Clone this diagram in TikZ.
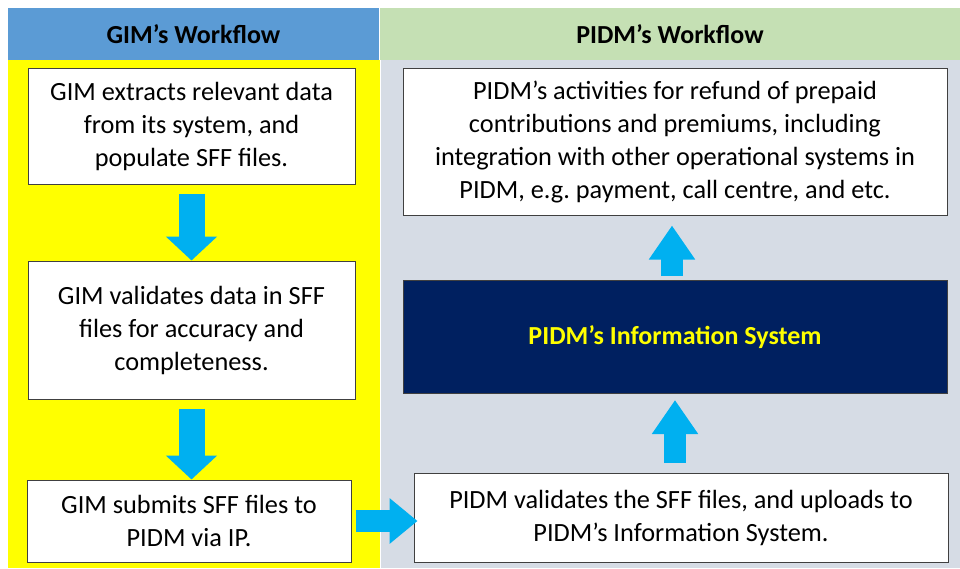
\documentclass[tikz,border=0pt]{standalone}
\usepackage{fontspec}
\setmainfont{Carlito}
\frenchspacing
\usetikzlibrary{arrows.meta,positioning}

\definecolor{headblue}{HTML}{5B9BD5}
\definecolor{headgreen}{HTML}{C5E0B4}
\definecolor{paneyellow}{HTML}{FFFF00}
\definecolor{panegray}{HTML}{D6DCE5}
\definecolor{flowcyan}{HTML}{00B0F0}
\definecolor{sysnavy}{HTML}{002060}
\definecolor{edgegray}{HTML}{404040}

\tikzset{
  stepbox/.style={draw=edgegray, line width=1pt, fill=white, align=center, inner sep=0pt,
    font=\fontsize{26.3}{33}\selectfont},
  header/.style={inner sep=0pt, font=\fontsize{26}{30}\selectfont\bfseries},
  flow/.style={draw=flowcyan, line width=26pt, -{Triangle[length=24pt,width=50pt]}},
  lift/.style={draw=flowcyan, line width=22pt, -{Triangle[length=34pt,width=44pt]}},
}

\begin{document}
\begin{tikzpicture}[x=1pt, y=-1pt]

\useasboundingbox (0,0) rectangle (960,568);

% Draw the two panels
\fill[paneyellow] (8,60) rectangle (380,568);
\fill[panegray] (381,60) rectangle (960,568);

% Headers
\node[header, fill=headblue, minimum width=371pt, minimum height=52pt] (gimhead) at (193.5,34) {GIM’s Workflow};
\node[header, fill=headgreen, minimum width=580pt, minimum height=52pt] (pidmhead) at (670,34) {PIDM’s Workflow};

% GIM's steps
\node[stepbox, minimum width=327pt, minimum height=116pt] (extract) at (191.5,126)
  {GIM extracts relevant data\\from its system, and\\populate SFF files.};
\node[stepbox, minimum width=327pt, minimum height=138pt] (validate) at (191.5,330)
  {GIM validates data in SFF\\files for accuracy and\\completeness.};
\node[stepbox, minimum width=324pt, minimum height=82pt] (submit) at (189,521)
  {GIM submits SFF files to\\PIDM via IP.};

% PIDM's steps
\node[stepbox, minimum width=534pt, minimum height=89pt] (upload) at (681,517.5)
  {PIDM validates the SFF files, and uploads to\\PIDM’s Information System.};
\node[draw=edgegray, line width=1pt, fill=sysnavy, text=paneyellow, header,
  minimum width=544pt, minimum height=113pt] (system) at (675,337) {PIDM’s Information System};
\node[stepbox, minimum width=544pt, minimum height=147pt] (refund) at (675,141.5)
  {PIDM’s activities for refund of prepaid\\contributions and premiums, including\\integration with other operational systems in\\PIDM, e.g. payment, call centre, and etc.};

% Arrows
\draw[flow, shorten <=9pt] (extract.south) -- (validate.north);
\draw[flow, shorten <=9pt] (validate.south) -- (validate.south |- submit.north);
\draw[draw=flowcyan, line width=22pt, -{Triangle[length=28pt,width=44pt]}, shorten <=4pt, shorten >=-4pt]
  (submit.east) -- (submit.east -| upload.west);
\draw[lift, shorten <=10pt, shorten >=6pt] (upload.north -| system.south) -- (system.south);
\draw[lift, shorten <=4pt, shorten >=10pt] ([xshift=-3pt]system.north) -- ([xshift=-3pt]refund.south);

\end{tikzpicture}
\end{document}
